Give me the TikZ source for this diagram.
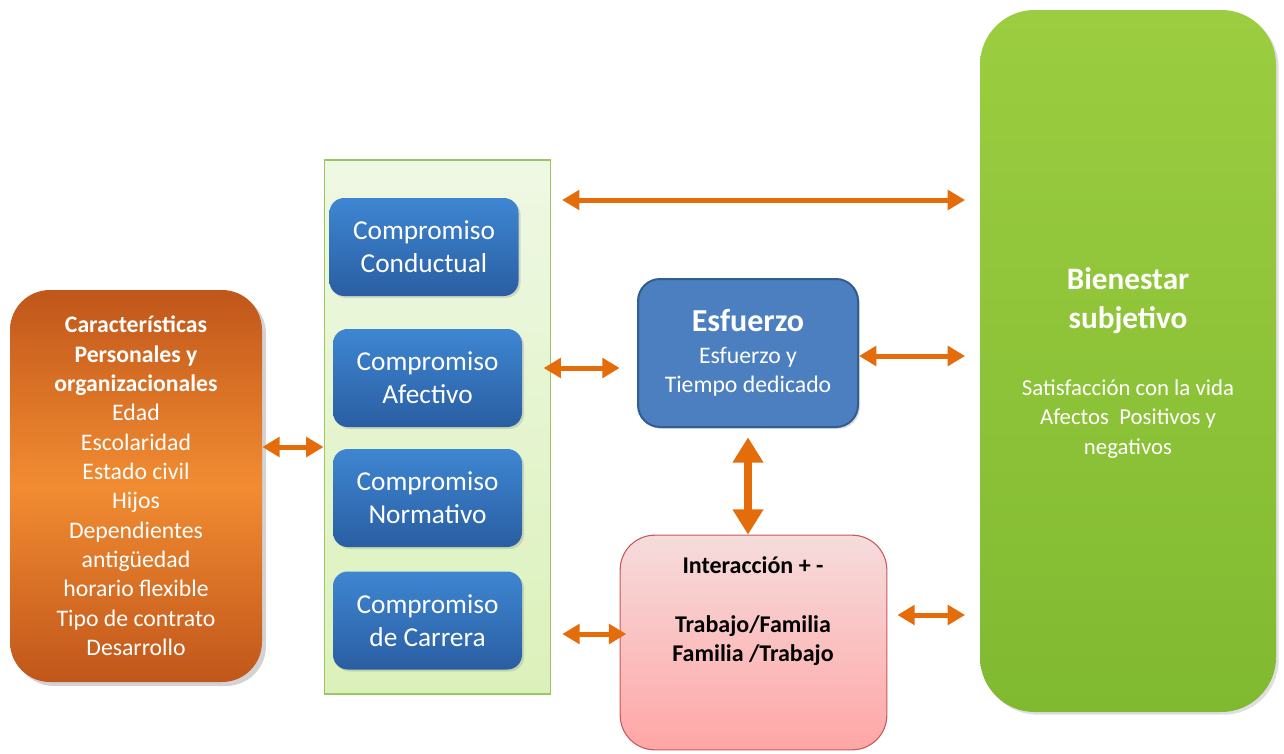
\documentclass[tikz,border=0pt]{standalone}
\usepackage{fontspec}
\setmainfont{Carlito}
\usetikzlibrary{arrows.meta,shadows}

\definecolor{orEdge}{HTML}{C0561A}
\definecolor{orMid}{HTML}{F28C32}
\definecolor{panelTop}{HTML}{EFF8E4}
\definecolor{panelBot}{HTML}{DBF1BA}
\definecolor{panelLine}{HTML}{9CC75E}
\definecolor{blueTop}{HTML}{3E86D2}
\definecolor{blueBot}{HTML}{2A5EA2}
\definecolor{esfFill}{HTML}{4C7FC0}
\definecolor{esfLine}{HTML}{335C8F}
\definecolor{pinkTop}{HTML}{F6DCDC}
\definecolor{pinkBot}{HTML}{FFA6A6}
\definecolor{pinkLine}{HTML}{C6585A}
\definecolor{greenTop}{HTML}{9CCD40}
\definecolor{greenBot}{HTML}{80BA31}
\definecolor{arrowOr}{HTML}{E46C0A}

\tikzset{
  base/.style={rectangle, inner sep=0pt, align=center, text=white},
  charbox/.style={base, rounded corners=30pt, minimum width=189pt, minimum height=294pt,
    top color=orEdge, bottom color=orEdge, middle color=orMid,
    drop shadow={opacity=0.35, shadow xshift=3pt, shadow yshift=-3pt},
    font=\fontsize{17.8}{22}\selectfont},
  panelbox/.style={rectangle, inner sep=0pt, draw=panelLine, line width=0.9pt,
    top color=panelTop, bottom color=panelBot, minimum width=170pt, minimum height=400.5pt},
  combox/.style={base, rounded corners=11pt, minimum width=141.75pt, minimum height=73.5pt,
    top color=blueTop, bottom color=blueBot,
    drop shadow={opacity=0.25, shadow xshift=1.5pt, shadow yshift=-1.5pt},
    font=\fontsize{20.5}{24.75}\selectfont},
  esfbox/.style={base, rounded corners=16.5pt, minimum width=165pt, minimum height=111pt,
    fill=esfFill, draw=esfLine, line width=1.5pt,
    drop shadow={opacity=0.25, shadow xshift=1.5pt, shadow yshift=-1.5pt},
    font=\fontsize{17.8}{22}\selectfont},
  interbox/.style={rectangle, inner sep=0pt, rounded corners=26pt, minimum width=200pt, minimum height=161pt,
    top color=pinkTop, bottom color=pinkBot, draw=pinkLine, line width=0.8pt},
  bienbox/.style={base, rounded corners=41pt, minimum width=222pt, minimum height=526.5pt,
    top color=greenTop, bottom color=greenBot,
    drop shadow={opacity=0.25, shadow xshift=2pt, shadow yshift=-2pt},
    font=\fontsize{17.1}{22}\selectfont},
  dar/.style={draw=arrowOr, line width=3.75pt,
    {Triangle[length=13pt,width=14.5pt]}-{Triangle[length=13pt,width=14.5pt]}},
  darv/.style={draw=arrowOr, line width=5.5pt,
    {Triangle[length=19pt,width=22pt]}-{Triangle[length=19pt,width=22pt]}},
}

\begin{document}
\begin{tikzpicture}[x=0.75pt,y=-0.75pt]
\useasboundingbox (0,0) rectangle (1284,753);

% left block of personal and organisational characteristics
\node[charbox] (chars) at (136,486) {%
  \textbf{Características}\\\textbf{Personales y}\\\textbf{organizacionales}\\
  Edad\\Escolaridad\\Estado civil\\Hijos\\Dependientes\\antigüedad\\
  horario flexible\\Tipo de contrato\\Desarrollo};

% commitment panel
\node[panelbox] (panel) at (437.5,427) {};
\node[combox] (cond) at (424,247) {Compromiso\\Conductual};
\node[combox] (afec) at (427.5,378) {Compromiso\\Afectivo};
\node[combox] (norm) at (427.5,498) {Compromiso\\Normativo};
\node[combox] (carr) at (427.5,620.5) {Compromiso\\de Carrera};

% effort
\node[esfbox] (esf) at (748,353) {%
  {\fontsize{24}{28}\selectfont\bfseries Esfuerzo}\\[2pt]
  Esfuerzo y\\Tiempo dedicado};

% work/family interaction
\node[interbox] (inter) at (753.5,642.5) {};
\node[base, text=black, font=\fontsize{18}{22}\selectfont\bfseries] (intertxt) at (753,611)
  {Interacción + -\\[22pt]Trabajo/Familia\\Familia /Trabajo};

% subjective well-being
\node[bienbox] (bien) at (1128,361) {};
\node[base, font=\fontsize{23.4}{29}\selectfont\bfseries] (bientit) at (1128,301)
  {Bienestar\\subjetivo};
\node[base, font=\fontsize{17.1}{22}\selectfont] (biendesc) at (1128,419)
  {Satisfacción con la vida\\Afectos\ \ Positivos y\\negativos};

% heights of the horizontal connectors
\coordinate (yA) at (0,447);
\coordinate (yB) at (0,200);
\coordinate (yC) at (0,368);
\coordinate (yD) at (0,356);
\coordinate (yE) at (0,634);
\coordinate (yF) at (0,615);

% connectors
\draw[dar] (chars.east |- yA) -- (panel.west |- yA);
\draw[dar, shorten <=8pt, shorten >=11pt] (panel.east |- yB) -- (bien.west |- yB);
\draw[dar, shorten <=16pt, shorten >=13pt] (afec.east |- yC) -- (esf.west |- yC);
\draw[dar, shorten >=11pt] (esf.east |- yD) -- (bien.west |- yD);
\draw[darv, shorten <=7pt] (esf.south) -- (esf.south |- inter.north);
\draw[dar, shorten <=30pt, shorten >=-5pt] (carr.east |- yE) -- (inter.west |- yE);
\draw[dar, shorten <=7.5pt, shorten >=11pt] (inter.east |- yF) -- (bien.west |- yF);
\end{tikzpicture}
\end{document}
